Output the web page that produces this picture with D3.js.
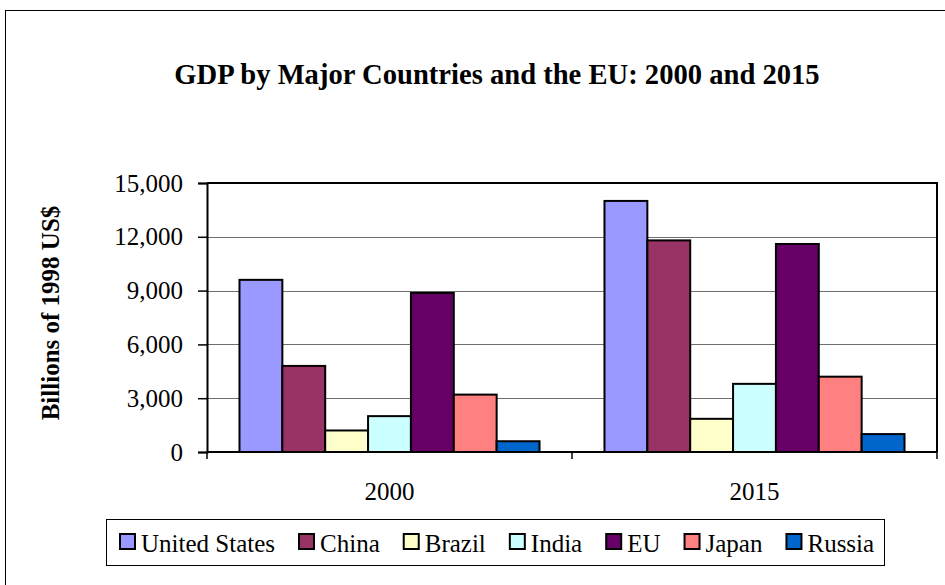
<!DOCTYPE html>
<html>
<head>
<meta charset="utf-8">
<script src="https://cdn.jsdelivr.net/npm/d3@7"></script>
<style>
  body { margin: 0; background: #fff; }
</style>
</head>
<body>
<div id="chart"></div>
<script>
const years = ["2000", "2015"];
const countries = ["United States", "China", "Brazil", "India", "EU", "Japan", "Russia"];
const colors = ["#9999FF", "#993366", "#FFFFCC", "#CCFFFF", "#660066", "#FF8080", "#0066CC"];
const gdp2000 = [9600, 4800, 1200, 2000, 8870, 3200, 600];
const gdp2015 = [14000, 11800, 1850, 3800, 11600, 4200, 1000];
const yTicks = [0, 3000, 6000, 9000, 12000, 15000];

const width = 945, height = 585;
const plot = { left: 207, right: 937, top: 183, bottom: 452 };
const serif = '"Liberation Serif", "Times New Roman", Tinos, serif';

// rows built from the arrays above
const rows = years.map((y, i) => ({
    year: y,
    values: countries.map((c, j) => ({ country: c, value: (i === 0 ? gdp2000 : gdp2015)[j] }))
}));

const svg = d3.select("#chart")
    .append("svg")
    .attr("width", width)
    .attr("height", height)
    .style("display", "block")
    .style("font-family", serif);

// outer chart frame
svg.append("rect")
    .attr("x", 5.5).attr("y", 10.5)
    .attr("width", 960).attr("height", 600)
    .attr("fill", "none").attr("stroke", "#000").attr("stroke-width", 1);

svg.append("text")
    .attr("x", 497).attr("y", 84)
    .attr("text-anchor", "middle")
    .style("font-family", serif)
    .attr("font-size", 28.6).attr("font-weight", "bold")
    .text("GDP by Major Countries and the EU: 2000 and 2015");

const x0 = d3.scaleBand()
    .domain(years)
    .range([plot.left, plot.right])
    .paddingInner(0.178)
    .paddingOuter(0.089);

const x1 = d3.scaleBand()
    .domain(countries)
    .range([0, x0.bandwidth()]);

const yScale = d3.scaleLinear()
    .domain([0, 15000])
    .range([plot.bottom, plot.top]);

const color = d3.scaleOrdinal().domain(countries).range(colors);

// gridlines
svg.append("g")
    .selectAll("line")
    .data(yTicks.filter(d => d > 0))
    .enter()
    .append("line")
    .attr("x1", plot.left).attr("x2", plot.right)
    .attr("y1", d => Math.round(yScale(d)) + 0.5)
    .attr("y2", d => Math.round(yScale(d)) + 0.5)
    .attr("stroke", "#6e6e6e").attr("stroke-width", 1);

// bars
svg.append("g")
    .selectAll("g")
    .data(rows)
    .enter()
    .append("g")
    .attr("transform", d => `translate(${x0(d.year)},0)`)
    .selectAll("rect")
    .data(d => d.values)
    .enter()
    .append("rect")
    .attr("x", d => x1(d.country))
    .attr("y", d => yScale(d.value))
    .attr("width", x1.bandwidth())
    .attr("height", d => yScale(0) - yScale(d.value))
    .attr("fill", d => color(d.country))
    .attr("stroke", "#000")
    .attr("stroke-width", 2);

// plot frame (top and right)
svg.append("path")
    .attr("d", `M${plot.left},${plot.top}H${plot.right}V${plot.bottom}`)
    .attr("fill", "none").attr("stroke", "#000").attr("stroke-width", 2);

// y axis
const yAxis = svg.append("g")
    .attr("transform", `translate(${plot.left},0)`)
    .call(d3.axisLeft(yScale).tickValues(yTicks).tickSize(9).tickPadding(15).tickFormat(d3.format(",")));
yAxis.attr("font-family", null).attr("font-size", null);
yAxis.select(".domain").attr("stroke-width", 2);
yAxis.selectAll(".tick line").attr("stroke-width", 1.5);
yAxis.selectAll("text")
    .style("font-family", serif)
    .attr("font-size", 25)
    .attr("fill", "#000");

// x axis: ticks at category boundaries
const xAxisG = svg.append("g");
xAxisG.append("line")
    .attr("x1", plot.left).attr("x2", plot.right)
    .attr("y1", plot.bottom).attr("y2", plot.bottom)
    .attr("stroke", "#000").attr("stroke-width", 2);
const step = x0.step();
const bounds = [plot.left, plot.left + step, plot.left + 2 * step];
xAxisG.selectAll(".xt")
    .data(bounds)
    .enter()
    .append("line")
    .attr("x1", d => d).attr("x2", d => d)
    .attr("y1", plot.bottom).attr("y2", plot.bottom + 7)
    .attr("stroke", "#000").attr("stroke-width", 1.5);
xAxisG.selectAll(".xl")
    .data(years)
    .enter()
    .append("text")
    .attr("x", d => x0(d) + x0.bandwidth() / 2)
    .attr("y", 500)
    .attr("text-anchor", "middle")
    .style("font-family", serif)
    .attr("font-size", 25)
    .text(d => d);

// y title
svg.append("text")
    .attr("transform", "translate(59,313) rotate(-90)")
    .attr("text-anchor", "middle")
    .style("font-family", serif)
    .attr("font-size", 25).attr("font-weight", "bold")
    .text("Billions of 1998 US$");

// legend
const legend = svg.append("g");
legend.append("rect")
    .attr("x", 106.5).attr("y", 519.5)
    .attr("width", 778).attr("height", 46)
    .attr("fill", "#fff").attr("stroke", "#000").attr("stroke-width", 1);

let lx = 120;
countries.forEach(c => {
    const item = legend.append("g");
    item.append("rect")
        .attr("x", lx).attr("y", 534)
        .attr("width", 15).attr("height", 15)
        .attr("fill", color(c)).attr("stroke", "#000").attr("stroke-width", 2);
    const t = item.append("text")
        .attr("x", lx + 21).attr("y", 552)
        .style("font-family", serif)
        .attr("font-size", 25)
        .text(c);
    lx += 21 + t.node().getComputedTextLength() + 24;
});
</script>
</body>
</html>
